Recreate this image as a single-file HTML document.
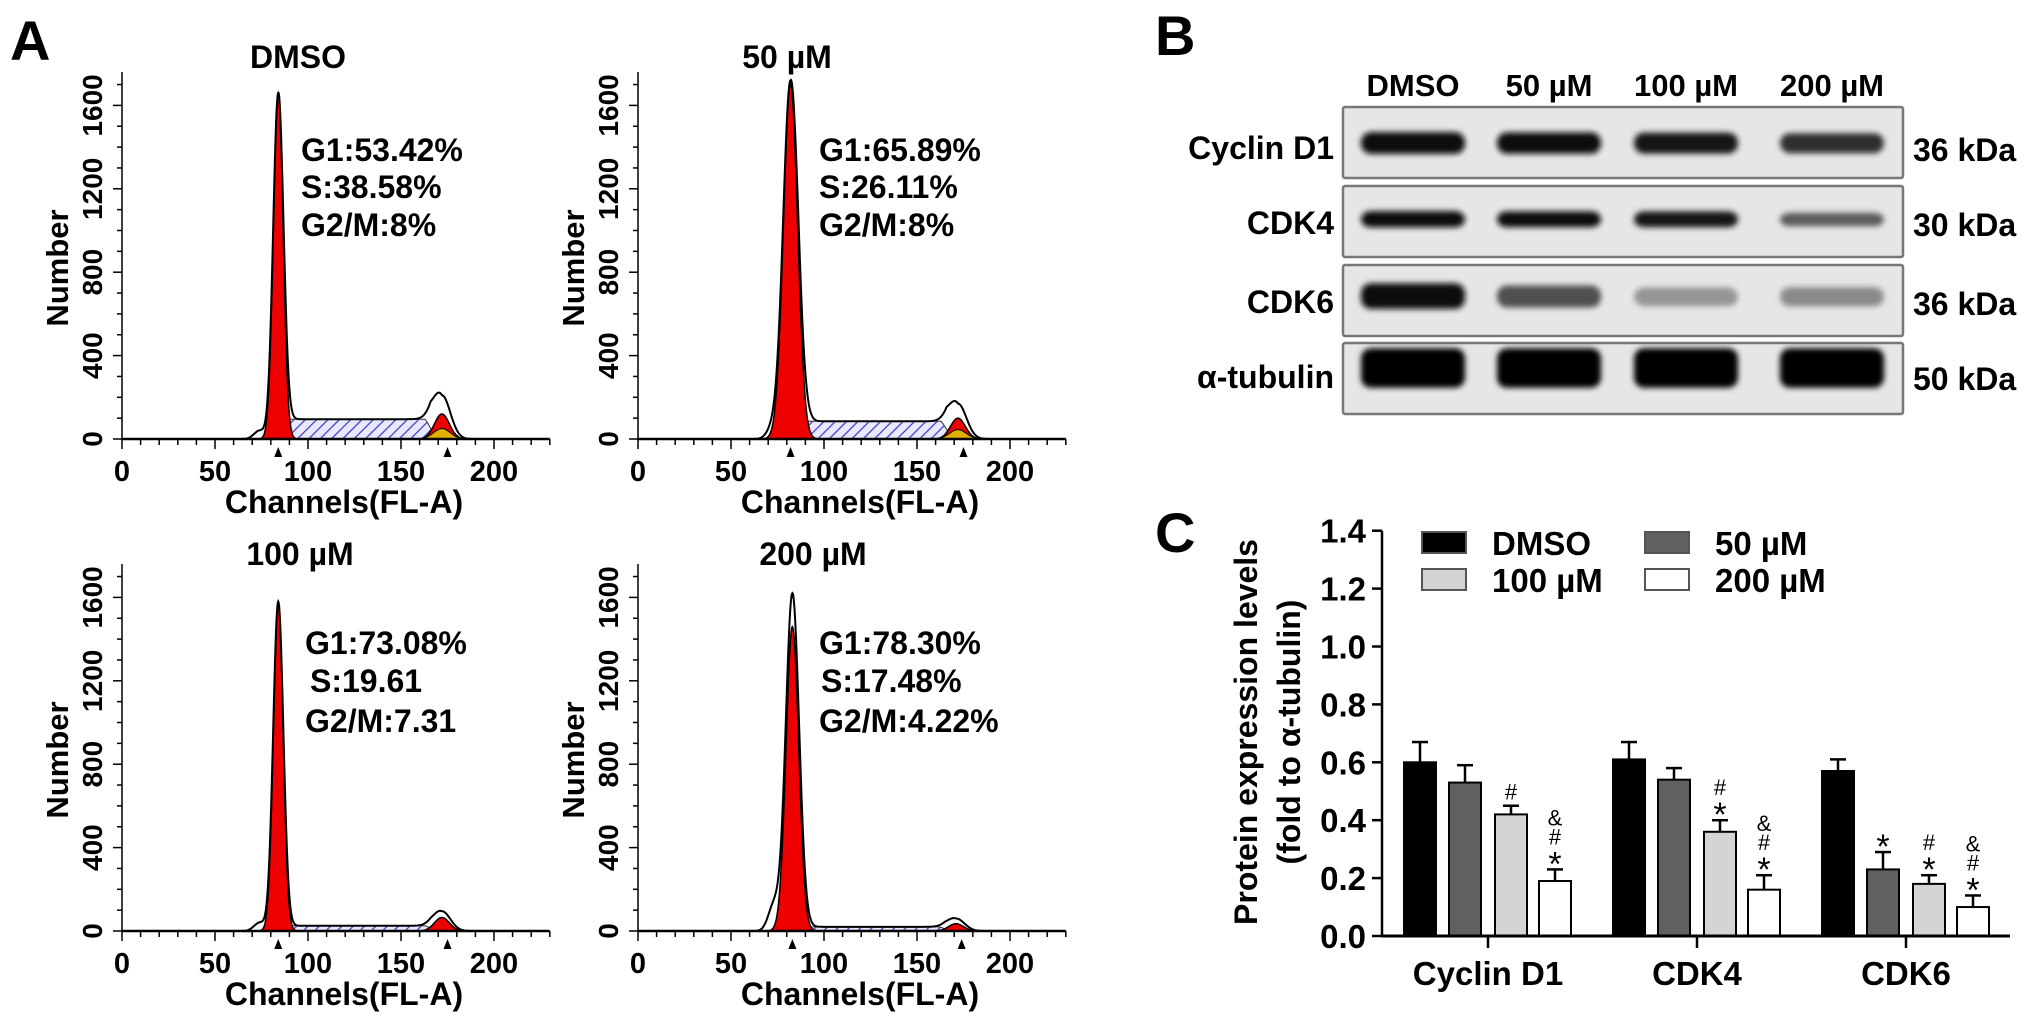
<!DOCTYPE html>
<html><head><meta charset="utf-8">
<style>
html,body{margin:0;padding:0;background:#fff;}
svg{display:block;font-family:"Liberation Sans",Arial,sans-serif;font-weight:bold;}
</style></head>
<body>
<svg id="fig" width="2031" height="1018" viewBox="0 0 2031 1018" xmlns="http://www.w3.org/2000/svg">
<defs>
<pattern id="hatch" width="8" height="8" patternUnits="userSpaceOnUse" patternTransform="rotate(45)">
<rect width="8" height="8" fill="#e8e8ff"/><line x1="0" y1="0" x2="0" y2="8" stroke="#4040c0" stroke-width="2.5"/>
</pattern>
<filter id="blur" x="-20%" y="-50%" width="140%" height="200%"><feGaussianBlur stdDeviation="3"/></filter>
</defs>
<g id="panelA"></g>
<g id="panelB"></g>
<g id="panelC"></g>
<text x="10" y="60" font-size="56">A</text>
<text x="1155" y="55" font-size="56">B</text>
<text x="1155" y="552" font-size="56">C</text>
</svg>
<script>
// ---------- Panel A data ----------
const flowTitles = ["DMSO", "50 µM", "100 µM", "200 µM"];
const g1Texts = ["G1:53.42%", "G1:65.89%", "G1:73.08%", "G1:78.30%"];
const sTexts = ["S:38.58%", "S:26.11%", "S:19.61", "S:17.48%"];
const g2Texts = ["G2/M:8%", "G2/M:8%", "G2/M:7.31", "G2/M:4.22%"];
const g1Pos = [84, 82, 84, 83];
const g1Peak = [1660, 1700, 1570, 1460];
const g1Sd = [2.6, 3.8, 2.6, 3.4];
const outlinePeak = [1660, 1720, 1580, 1620];
const sLevel = [95, 85, 25, 20];
const g2Pos = [172, 172, 172, 171];
const g2Peak = [120, 100, 65, 35];
const g2Yellow = [50, 45, 0, 0];
const g2Outline = [210, 170, 95, 60];
const xTicks = [0, 50, 100, 150, 200];
const yTicks = [0, 400, 800, 1200, 1600];

const NS = "http://www.w3.org/2000/svg";
function mk(tag, attrs, parent, txt) {
  const e = document.createElementNS(NS, tag);
  for (const k in attrs) e.setAttribute(k, attrs[k]);
  if (txt !== undefined) e.textContent = txt;
  parent.appendChild(e);
  return e;
}
const A = document.getElementById("panelA");
const origins = [[122, 439], [638, 439], [122, 931], [638, 931]];
const titleXY = [[298, 68], [787, 68], [300, 565], [813, 565]];
const annX = [[301, 301, 301], [819, 819, 819], [305, 310, 305], [819, 821, 819]];
const annY = [[161, 198, 236], [161, 198, 236], [654, 692, 732], [654, 692, 732]];
function gauss(c, mu, sd) { return Math.exp(-0.5 * ((c - mu) / sd) ** 2); }

for (let p = 0; p < 4; p++) {
  const [ox, oy] = origins[p];
  const xs = c => ox + c * 1.86;
  const ys = v => oy - v * 0.2085;
  const g = mk("g", {}, A);
  
  
  let sp = `M${xs(g1Pos[p] - 2)},${oy} `;
  for (let c = g1Pos[p] - 2; c <= g2Pos[p] - 4; c += 1) {
    const r = Math.min(1, (c - g1Pos[p] + 2) / 6) * Math.min(1, (g2Pos[p] - 4 - c) / 6 + 0.2);
    sp += `L${xs(c)},${ys(sLevel[p] * r)} `;
  }
  sp += `L${xs(g2Pos[p] - 4)},${oy} Z`;
  const sPath = mk("path", { d: sp, fill: "url(#hatch)", stroke: "#333", "stroke-width": 1 }, g);
  
  
  let gp = `M${xs(g1Pos[p] - 5 * g1Sd[p])},${oy} `;
  for (let c = g1Pos[p] - 5 * g1Sd[p]; c <= g1Pos[p] + 5 * g1Sd[p]; c += 0.25) gp += `L${xs(c)},${ys(g1Peak[p] * gauss(c, g1Pos[p], g1Sd[p]))} `;
  gp += `L${xs(g1Pos[p] + 5 * g1Sd[p])},${oy} Z`;
  const g1 = mk("path", { d: gp, fill: "#ee0000", stroke: "#000", "stroke-width": 1.5 }, g);
  
  
  let g2p = `M${xs(g2Pos[p] - 12)},${oy} `;
  for (let c = g2Pos[p] - 12; c <= g2Pos[p] + 12; c += 0.5) g2p += `L${xs(c)},${ys(g2Peak[p] * gauss(c, g2Pos[p], 4))} `;
  g2p += "Z";
  const g2 = mk("path", { d: g2p, fill: "#ee0000", stroke: "#000", "stroke-width": 1.5 }, g);
  
  
  if (g2Yellow[p] > 0) {
    let yp = `M${xs(g2Pos[p] - 12)},${oy} `;
    for (let c = g2Pos[p] - 12; c <= g2Pos[p] + 12; c += 0.5) yp += `L${xs(c)},${ys(g2Yellow[p] * gauss(c, g2Pos[p], 4.5))} `;
    yp += "Z";
    const y = mk("path", { d: yp, fill: "#e0b000", stroke: "#000", "stroke-width": 1 }, g);
    
    
  }
  let op = "";
  for (let c = 60; c <= 195; c += 0.25) {
    let v = outlinePeak[p] * gauss(c, g1Pos[p], g1Sd[p] * 1.05) + g2Outline[p] * gauss(c, g2Pos[p], 4.5);
    if (c > g1Pos[p] && c < g2Pos[p]) v += sLevel[p] * Math.min(1, (c - g1Pos[p]) / 4) * Math.min(1, (g2Pos[p] - c) / 6);
    v += 40 * gauss(c, g1Pos[p] - 10, 3) * (p === 3 ? 3 : 1);
    op += (op ? "L" : "M") + `${xs(c)},${ys(v)} `;
  }
  const ol = mk("path", { d: op, fill: "none", stroke: "#000", "stroke-width": 2 }, g);
  
  
  mk("line", { x1: ox, y1: oy, x2: ox + 230 * 1.86, y2: oy, stroke: "#000", "stroke-width": 2.5 }, g);
  mk("line", { x1: ox, y1: oy, x2: ox, y2: oy - 367, stroke: "#000", "stroke-width": 1.5 }, g);
  for (let c = 0; c <= 230; c += 10) mk("line", { x1: xs(c), y1: oy, x2: xs(c), y2: oy + (c % 50 === 0 ? 10 : 6), stroke: "#000", "stroke-width": 1.5 }, g);
  for (let v = 0; v <= 1700; v += 100) mk("line", { x1: ox, y1: ys(v), x2: ox - (v % 400 === 0 ? 9 : 5), y2: ys(v), stroke: "#000", "stroke-width": 1.5 }, g);
  xTicks.forEach(t => {
    const tx = mk("text", { x: xs(t), y: oy + 42, "font-size": 29, "text-anchor": "middle" }, g, t);
    
    
  });
  yTicks.forEach(t => {
    const tx = mk("text", { x: 0, y: 0, "font-size": 28, "text-anchor": "middle", transform: `translate(${ox - 20},${ys(t)}) rotate(-90)` }, g, t);
    
    
  });
  [g1Pos[p], g2Pos[p] + 3].forEach(c => mk("path", { d: `M${xs(c) - 4},${oy + 18} L${xs(c) + 4},${oy + 18} L${xs(c)},${oy + 8} Z`, fill: "#000" }, g));
  const xt = mk("text", { x: ox + 222, y: oy + 74, "font-size": 32, "text-anchor": "middle" }, g, "Channels(FL-A)");
  
  
  const yt = mk("text", { x: 0, y: 0, "font-size": 31, "text-anchor": "middle", transform: `translate(${ox - 54},${oy - 171}) rotate(-90)` }, g, "Number");
  
  
  const tt = mk("text", { x: titleXY[p][0], y: titleXY[p][1], "font-size": 32, "text-anchor": "middle" }, g, flowTitles[p]);
  
  
  [g1Texts[p], sTexts[p], g2Texts[p]].forEach((s, i) => {
    const a = mk("text", { x: annX[p][i], y: annY[p][i], "font-size": 32 }, g, s);
    
    
  });
}

// ---------- Panel B ----------
const lanes = ["DMSO", "50 µM", "100 µM", "200 µM"];
const proteins = ["Cyclin D1", "CDK4", "CDK6", "α-tubulin"];
const kda = ["36 kDa", "30 kDa", "36 kDa", "50 kDa"];
const bandIntensity = [[0.97, 0.93, 0.9, 0.8], [0.97, 0.93, 0.92, 0.6], [0.93, 0.65, 0.35, 0.4], [1, 1, 1, 1]];
const B = document.getElementById("panelB");
const laneX = [1413, 1549, 1686, 1832];
const rowTop = [107, 186, 265, 343];
const bandY = [148, 223, 302, 377];
const bandH = [20, 15, 24, 36];
lanes.forEach((l, i) => {
  const t = mk("text", { x: laneX[i], y: 96, "font-size": 31, "text-anchor": "middle" }, B, l);
  
  
});
proteins.forEach((pr, r) => {
  const box = mk("rect", { x: 1343, y: rowTop[r], width: 560, height: 71, fill: "#e6e6e6", stroke: "#777", "stroke-width": 2.5, rx: 2 }, B);
  
  
  const lt = mk("text", { x: 1334, y: bandY[r] + 11, "font-size": 32, "text-anchor": "end" }, B, pr);
  
  
  const kt = mk("text", { x: 1913, y: bandY[r] + 13, "font-size": 32 }, B, kda[r]);
  
  
  laneX.forEach((x, i) => {
    const v = bandIntensity[r][i];
    const c = Math.round(255 * (1 - v) * 0.9);
    const band = mk("rect", { x: x - 52, y: bandY[r] - bandH[r] * (0.5 + 0.3 * v), width: 104, height: bandH[r] * (0.6 + 0.5 * v), rx: 10, fill: `rgb(${c},${c},${c})`, filter: "url(#blur)" }, B);
    
    
  });
});

// ---------- Panel C ----------
const categories = ["Cyclin D1", "CDK4", "CDK6"];
const seriesNames = ["DMSO", "50 µM", "100 µM", "200 µM"];
const valsDMSO = [0.60, 0.61, 0.57];
const vals50 = [0.53, 0.54, 0.23];
const vals100 = [0.42, 0.36, 0.18];
const vals200 = [0.19, 0.16, 0.10];
const errDMSO = [0.07, 0.06, 0.04];
const err50 = [0.06, 0.04, 0.06];
const err100 = [0.03, 0.04, 0.03];
const err200 = [0.04, 0.05, 0.04];
const sig100 = [["#"], ["*", "#"], ["*", "#"]];
const sig200 = [["*", "#", "&"], ["*", "#", "&"], ["*", "#", "&"]];
const sig50 = [[], [], ["*"]];
const cTicks = ["0.0", "0.2", "0.4", "0.6", "0.8", "1.0", "1.2", "1.4"];
const fills = ["#000000", "#606060", "#d4d4d4", "#ffffff"];

const C = document.getElementById("panelC");
const y0 = 936, ySc = 289.5;
const yv = v => y0 - v * ySc;
const groupX = i => 1488 + i * 209;
const barOff = [-68, -23, 23, 67];
const allVals = [valsDMSO, vals50, vals100, vals200];
const allErr = [errDMSO, err50, err100, err200];
const allSig = [[[], [], []], sig50, sig100, sig200];
categories.forEach((cat, gi) => {
  allVals.forEach((arr, si) => {
    const cx = groupX(gi) + barOff[si];
    const v = arr[gi], e = allErr[si][gi];
    mk("line", { x1: cx, y1: yv(v), x2: cx, y2: yv(v + e), stroke: "#000", "stroke-width": 2.5 }, C);
    mk("line", { x1: cx - 8, y1: yv(v + e), x2: cx + 8, y2: yv(v + e), stroke: "#000", "stroke-width": 2.5 }, C);
    const b = mk("rect", { x: cx - 16, y: yv(v), width: 32, height: v * ySc, fill: fills[si], stroke: "#000", "stroke-width": 2 }, C);
    
    
    allSig[si][gi].forEach((s, k) => {
      const st = mk("text", { x: cx, y: yv(v + e) - 6 - k * 19 + (s === "*" ? 12 : 0), "font-size": s === "*" ? 34 : 22, "text-anchor": "middle", "font-weight": "normal" }, C, s);
      
      
    });
  });
  mk("line", { x1: groupX(gi), y1: y0, x2: groupX(gi), y2: y0 + 12, stroke: "#000", "stroke-width": 2.5 }, C);
  const cl = mk("text", { x: groupX(gi), y: y0 + 49, "font-size": 33, "text-anchor": "middle" }, C, cat);
  
  
});
mk("line", { x1: 1382, y1: y0, x2: 2010, y2: y0, stroke: "#000", "stroke-width": 3 }, C);
mk("line", { x1: 1382, y1: y0, x2: 1382, y2: yv(1.4), stroke: "#000", "stroke-width": 2.5 }, C);
cTicks.forEach(t => {
  mk("line", { x1: 1382, y1: yv(+t), x2: 1372, y2: yv(+t), stroke: "#000", "stroke-width": 2.5 }, C);
  const tl = mk("text", { x: 1366, y: yv(+t) + 12, "font-size": 33, "text-anchor": "end" }, C, t);
  
  
});
const t1 = mk("text", { x: 0, y: 0, "font-size": 32, "text-anchor": "middle", transform: "translate(1257,732) rotate(-90)" }, C, "Protein expression levels");


const t2 = mk("text", { x: 0, y: 0, "font-size": 32, "text-anchor": "middle", transform: "translate(1300,732) rotate(-90)" }, C, "(fold to α-tubulin)");


const legPos = [[1422, 532], [1645, 532], [1422, 569], [1645, 569]];
seriesNames.forEach((s, i) => {
  const lg = mk("g", {}, C);
  
  
  mk("rect", { x: legPos[i][0], y: legPos[i][1], width: 44, height: 21, fill: fills[i], stroke: "#555", "stroke-width": 2 }, lg);
  mk("text", { x: legPos[i][0] + 70, y: legPos[i][1] + 23, "font-size": 33, "font-weight": "bold" }, lg, s);
});
</script>
</body></html>
